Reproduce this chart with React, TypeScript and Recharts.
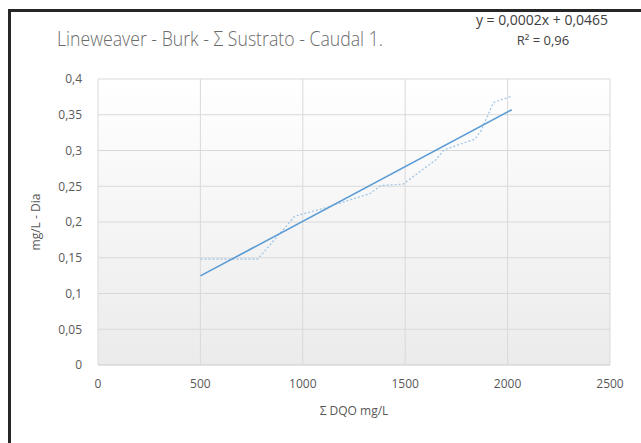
import React from "react";
import { ComposedChart, Line, XAxis, YAxis, CartesianGrid, Label } from "recharts";

// Σ DQO (mg/L) vs velocidad (mg/L - Dia)
const sustrato = [500, 780, 960, 1100, 1330, 1380, 1490, 1650, 1690, 1840, 1870, 1930, 2020];
const velocidad = [0.148, 0.148, 0.208, 0.219, 0.24, 0.251, 0.253, 0.287, 0.301, 0.316, 0.327, 0.367, 0.376];

// tendencia lineal (extremos)
const trendX = [500, 2020];
const trendY = [0.1246, 0.357];

const xTicks = [0, 500, 1000, 1500, 2000, 2500];
const yTicks = [0, 0.05, 0.1, 0.15, 0.2, 0.25, 0.3, 0.35, 0.4];

const observed = sustrato.map((x, i) => ({ x, y: velocidad[i] }));
const trend = trendX.map((x, i) => ({ x, y: trendY[i] }));

const font = "'Open Sans', 'Noto Sans', sans-serif";
const tickStyle = { fontSize: 12, fill: "#595959", fontFamily: font };
const comma = (v: number) => String(v).replace(".", ",");

export default function App() {
  return (
    <div style={{ position: "fixed", left: 0, top: 0, width: 641, height: 443, background: "#fff" }}>
      <div
        style={{
          position: "absolute",
          left: 8,
          top: 9,
          width: 633,
          height: 434,
          borderTop: "3px solid #262626",
          borderLeft: "3px solid #262626",
          boxSizing: "border-box",
        }}
      />
      <div style={{ position: "absolute", left: 0, top: 0 }}>
        <ComposedChart width={641} height={443} margin={{ top: 79, right: 31, left: 0, bottom: 0 }}>
          <defs>
            <linearGradient id="plotBg" x1="0" y1="0" x2="0" y2="1">
              <stop offset="0%" stopColor="#ffffff" />
              <stop offset="100%" stopColor="#ebebeb" />
            </linearGradient>
          </defs>
          <CartesianGrid stroke="#d9d9d9" fill="url(#plotBg)" />
          <XAxis
            type="number"
            dataKey="x"
            domain={[0, 2500]}
            ticks={xTicks}
            tick={tickStyle}
            tickLine={false}
            tickSize={0}
            tickMargin={14}
            axisLine={{ stroke: "#d9d9d9" }}
            height={78}
          >
            <Label value="Σ DQO mg/L" position="insideTop" offset={41} style={{ fontSize: 12, fill: "#595959", fontFamily: font }} />
          </XAxis>
          <YAxis
            type="number"
            dataKey="y"
            domain={[0, 0.4]}
            ticks={yTicks}
            tick={tickStyle}
            tickFormatter={comma}
            tickLine={false}
            tickSize={0}
            tickMargin={16}
            axisLine={false}
            width={98}
          >
            <Label
              value="mg/L - Dia"
              angle={-90}
              position="insideLeft"
              offset={36}
              style={{ fontSize: 12, fill: "#595959", fontFamily: font, textAnchor: "middle" }}
            />
          </YAxis>
          <Line
            data={observed}
            dataKey="y"
            type="linear"
            stroke="#9dc3e6"
            strokeWidth={1.2}
            strokeDasharray="2 2"
            dot={false}
            isAnimationActive={false}
          />
          <Line
            data={trend}
            dataKey="y"
            type="linear"
            stroke="#5b9bd5"
            strokeWidth={1.6}
            dot={false}
            isAnimationActive={false}
          />
        </ComposedChart>
      </div>
      <svg width={641} height={443} style={{ position: "absolute", left: 0, top: 0, pointerEvents: "none" }}>
        <text
          x={57}
          y={46}
          fontSize={21}
          fontWeight={300}
          fill="#6b6b6b"
          fontFamily={font}
          textLength={326}
          lengthAdjust="spacingAndGlyphs"
        >
          Lineweaver - Burk - Σ Sustrato - Caudal 1.
        </text>
        <text x={542} y={25} fontSize={14} fill="#404040" fontFamily={font} textAnchor="middle">
          y = 0,0002x + 0,0465
        </text>
        <text x={543} y={45} fontSize={13} fill="#404040" fontFamily={font} textAnchor="middle">
          R² = 0,96
        </text>
      </svg>
    </div>
  );
}
